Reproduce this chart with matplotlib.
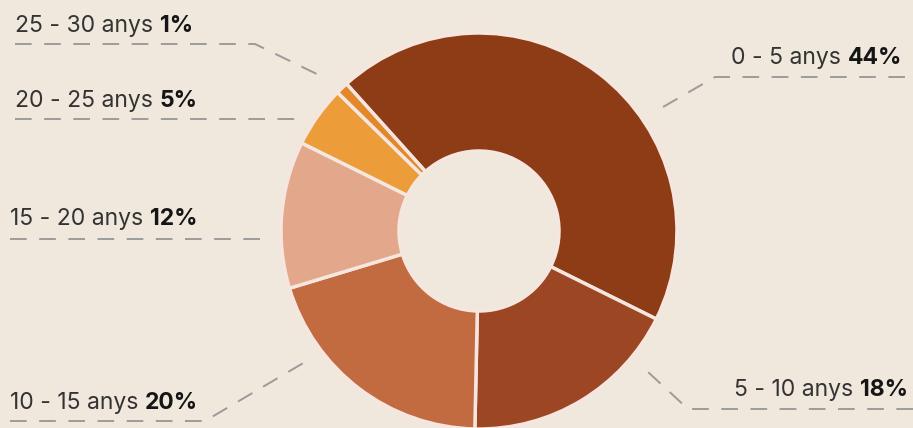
import matplotlib
matplotlib.use("Agg")
import matplotlib.pyplot as plt

plt.rcParams['lines.scale_dashes'] = False

categories = ["0 - 5 anys", "5 - 10 anys", "10 - 15 anys", "15 - 20 anys", "20 - 25 anys", "25 - 30 anys"]
values = [44, 18, 20, 12, 5, 1]
pct_labels = ["44%", "18%", "20%", "12%", "5%", "1%"]
colors = ["#8e3c15", "#9c4624", "#c26a40", "#e3a88b", "#ec9c38", "#e2882a"]

W, H = 913, 428
BG = "#f0e7dd"
fig = plt.figure(figsize=(W / 100, H / 100), dpi=100, facecolor=BG)
ax = fig.add_axes([0, 0, 1, 1])
ax.set_facecolor(BG)

cx, cy = 479, H - 231
R = 198
ax.pie(values, colors=colors, startangle=132, counterclock=False,
       center=(cx, cy), radius=R,
       wedgeprops=dict(width=R - 80, edgecolor="#f6e6e0", linewidth=2.5))
ax.set_xlim(0, W)
ax.set_ylim(0, H)
ax.set_aspect('equal')
ax.axis('off')

FONT = "Inter"
FS = 16.5
renderer = fig.canvas.get_renderer()
dash_kw = dict(color="#9b9b9b", lw=1.4, dashes=(12, 9), solid_capstyle='butt')

# label specs: (text anchor x, text center y, align, leader polyline in pixel coords)
label_specs = [
    (902, 58, 'right', [(905, 77), (715, 77), (663, 107)]),
    (908, 390, 'right', [(913, 409), (688, 409), (648, 372)]),
    (10, 403, 'left', [(10, 421), (205, 421), (305, 362)]),
    (10, 219, 'left', [(10, 239), (265, 239)]),
    (15, 101, 'left', [(15, 119), (302, 119)]),
    (15, 26, 'left', [(15, 44), (255, 44), (325, 78)]),
]

for cat, pct, (tx, ty, align, pts) in zip(categories, pct_labels, label_specs):
    xs = [p[0] for p in pts]
    ys = [H - p[1] for p in pts]
    ax.plot(xs, ys, **dash_kw)
    if align == 'left':
        t1 = ax.text(tx, H - ty, cat + " ", ha='left', va='center', fontsize=FS,
                     family=FONT, color="#333333")
        bb = t1.get_window_extent(renderer)
        ax.text(bb.x1, H - ty, pct, ha='left', va='center', fontsize=FS,
                family=FONT, fontweight='bold', color="#151515")
    else:
        t2 = ax.text(tx, H - ty, pct, ha='right', va='center', fontsize=FS,
                     family=FONT, fontweight='bold', color="#151515")
        bb = t2.get_window_extent(renderer)
        ax.text(bb.x0, H - ty, cat + " ", ha='right', va='center', fontsize=FS,
                family=FONT, color="#333333")

fig.savefig("out.png", dpi=100, facecolor=BG)
